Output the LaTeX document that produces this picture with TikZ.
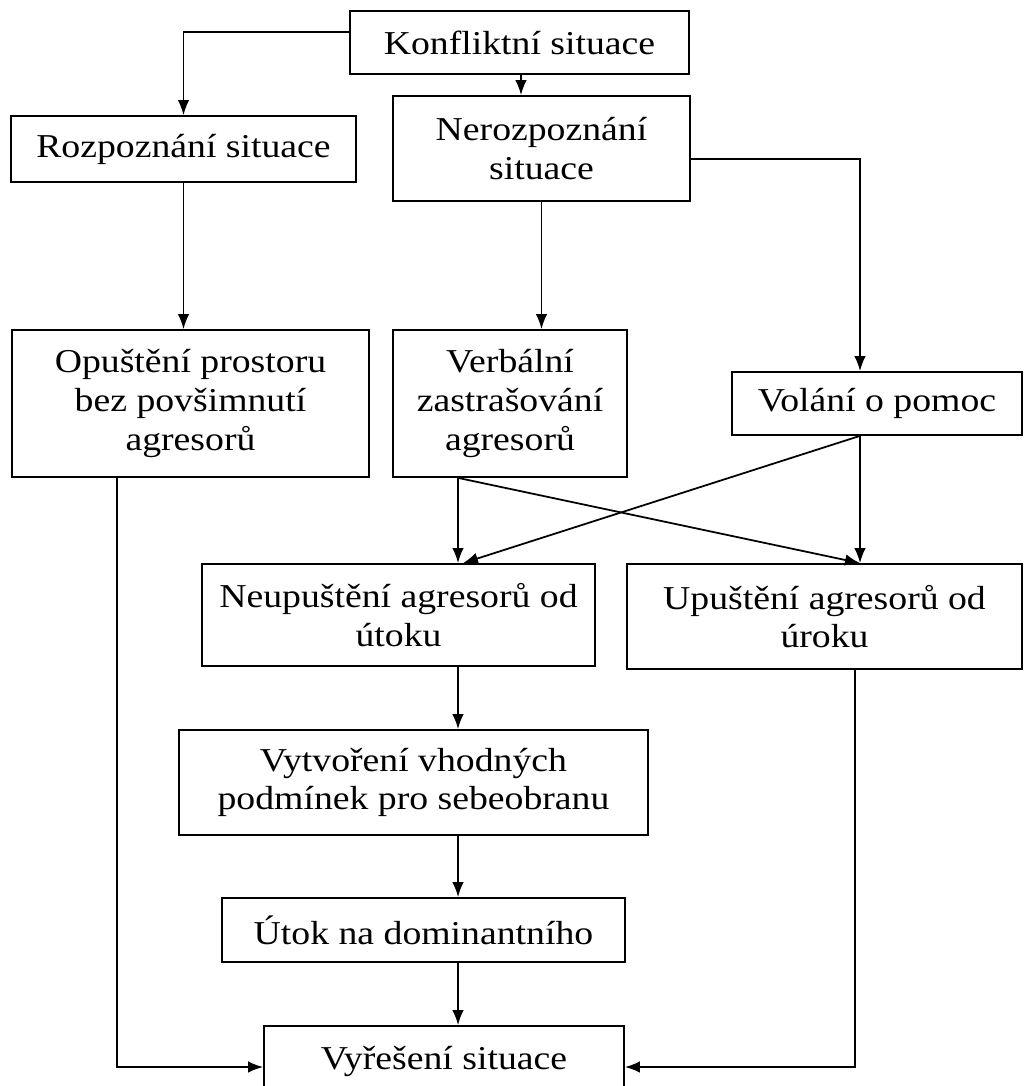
\documentclass[tikz,border=0pt]{standalone}
\usepackage{fontspec}
\setmainfont{Liberation Serif}[FakeStretch=1.13]
\usepackage{tikz}
\usetikzlibrary{arrows.meta}

\begin{document}
\begin{tikzpicture}[
    box/.style={draw,line width=1pt,inner sep=0pt,align=center,font={\fontsize{19}{22}\selectfont}},
    arrow/.style={-{Latex[length=3mm,width=2.3mm]},line width=1pt}
]
    \path[use as bounding box,fill=white] (0,0) rectangle (20.48,-21.72);
    % Top: start and the two ways
    \node[box,minimum width=6.78cm,minimum height=1.26cm] (konf) at (10.39,-0.85) {Konfliktní situace};
    \node[box,minimum width=6.90cm,minimum height=1.32cm] (rozp) at (3.67,-2.98) {Rozpoznání situace};
    \node[box,minimum width=5.94cm,minimum height=2.10cm] (neroz) at (10.83,-2.97) {Nerozpoznání\\situace};
    % Middle row: reactions
    \node[box,minimum width=7.14cm,minimum height=2.94cm] (opust) at (3.81,-8.07) {Opuštění prostoru\\bez povšimnutí\\agresorů};
    \node[box,minimum width=4.68cm,minimum height=2.94cm] (verb) at (10.20,-8.07) {Verbální\\zastrašování\\agresorů};
    \node[box,minimum width=5.80cm,minimum height=1.26cm] (volani) at (17.54,-8.07) {Volání o pomoc};
    % Outcomes
    \node[box,minimum width=7.86cm,minimum height=2.04cm] (neup) at (7.97,-12.30) {Neupuštění agresorů od\\útoku};
    \node[box,minimum width=7.90cm,minimum height=2.10cm] (upust) at (16.49,-12.33) {Upuštění agresorů od\\úroku};
    \node[box,minimum width=9.38cm,minimum height=2.10cm] (vytv) at (8.27,-15.65) {Vytvoření vhodných\\podmínek pro sebeobranu};
    \node[box,minimum width=8.06cm,minimum height=1.28cm] (utok) at (8.47,-18.60) {Útok na dominantního};
    \node[box,minimum width=7.20cm,minimum height=1.40cm] (vyres) at (8.88,-21.22) {Vyřešení situace};
    % Helper points
    \coordinate (vb) at ([xshift=-10.4mm]verb.south);
    \coordinate (vs) at ([xshift=-3.4mm]volani.south);
    % Arrows
    \draw[arrow] ([yshift=2.1mm]konf.west) -| (rozp.north);
    \draw[arrow] ([xshift=0.3mm]konf.south) -- ([xshift=0.3mm]konf.south |- neroz.north);
    \draw[arrow] (rozp.south) -- (rozp.south |- opust.north);
    \draw[arrow] (neroz.south) -- (neroz.south |- verb.north);
    \draw[arrow] ([yshift=-2.1mm]neroz.east) -| ([xshift=-3.4mm]volani.north);
    \draw[arrow] (vb) -- (vb |- neup.north);
    \draw[arrow] (vb) -- (vs |- upust.north);
    \draw[arrow] (vs) -- (vs |- upust.north);
    \draw[arrow] (vs) -- ([xshift=1mm]vb |- neup.north);
    \draw[arrow] (vb |- neup.south) -- (vb |- vytv.north);
    \draw[arrow] (vb |- vytv.south) -- (vb |- utok.north);
    \draw[arrow] (vb |- utok.south) -- (vb |- vyres.north);
    \draw[arrow] ([xshift=-14.7mm]opust.south) |- ([yshift=-1.2mm]vyres.west);
    \draw[arrow] ([xshift=6.1mm]upust.south) |- ([yshift=-1.2mm]vyres.east);
\end{tikzpicture}
\end{document}
